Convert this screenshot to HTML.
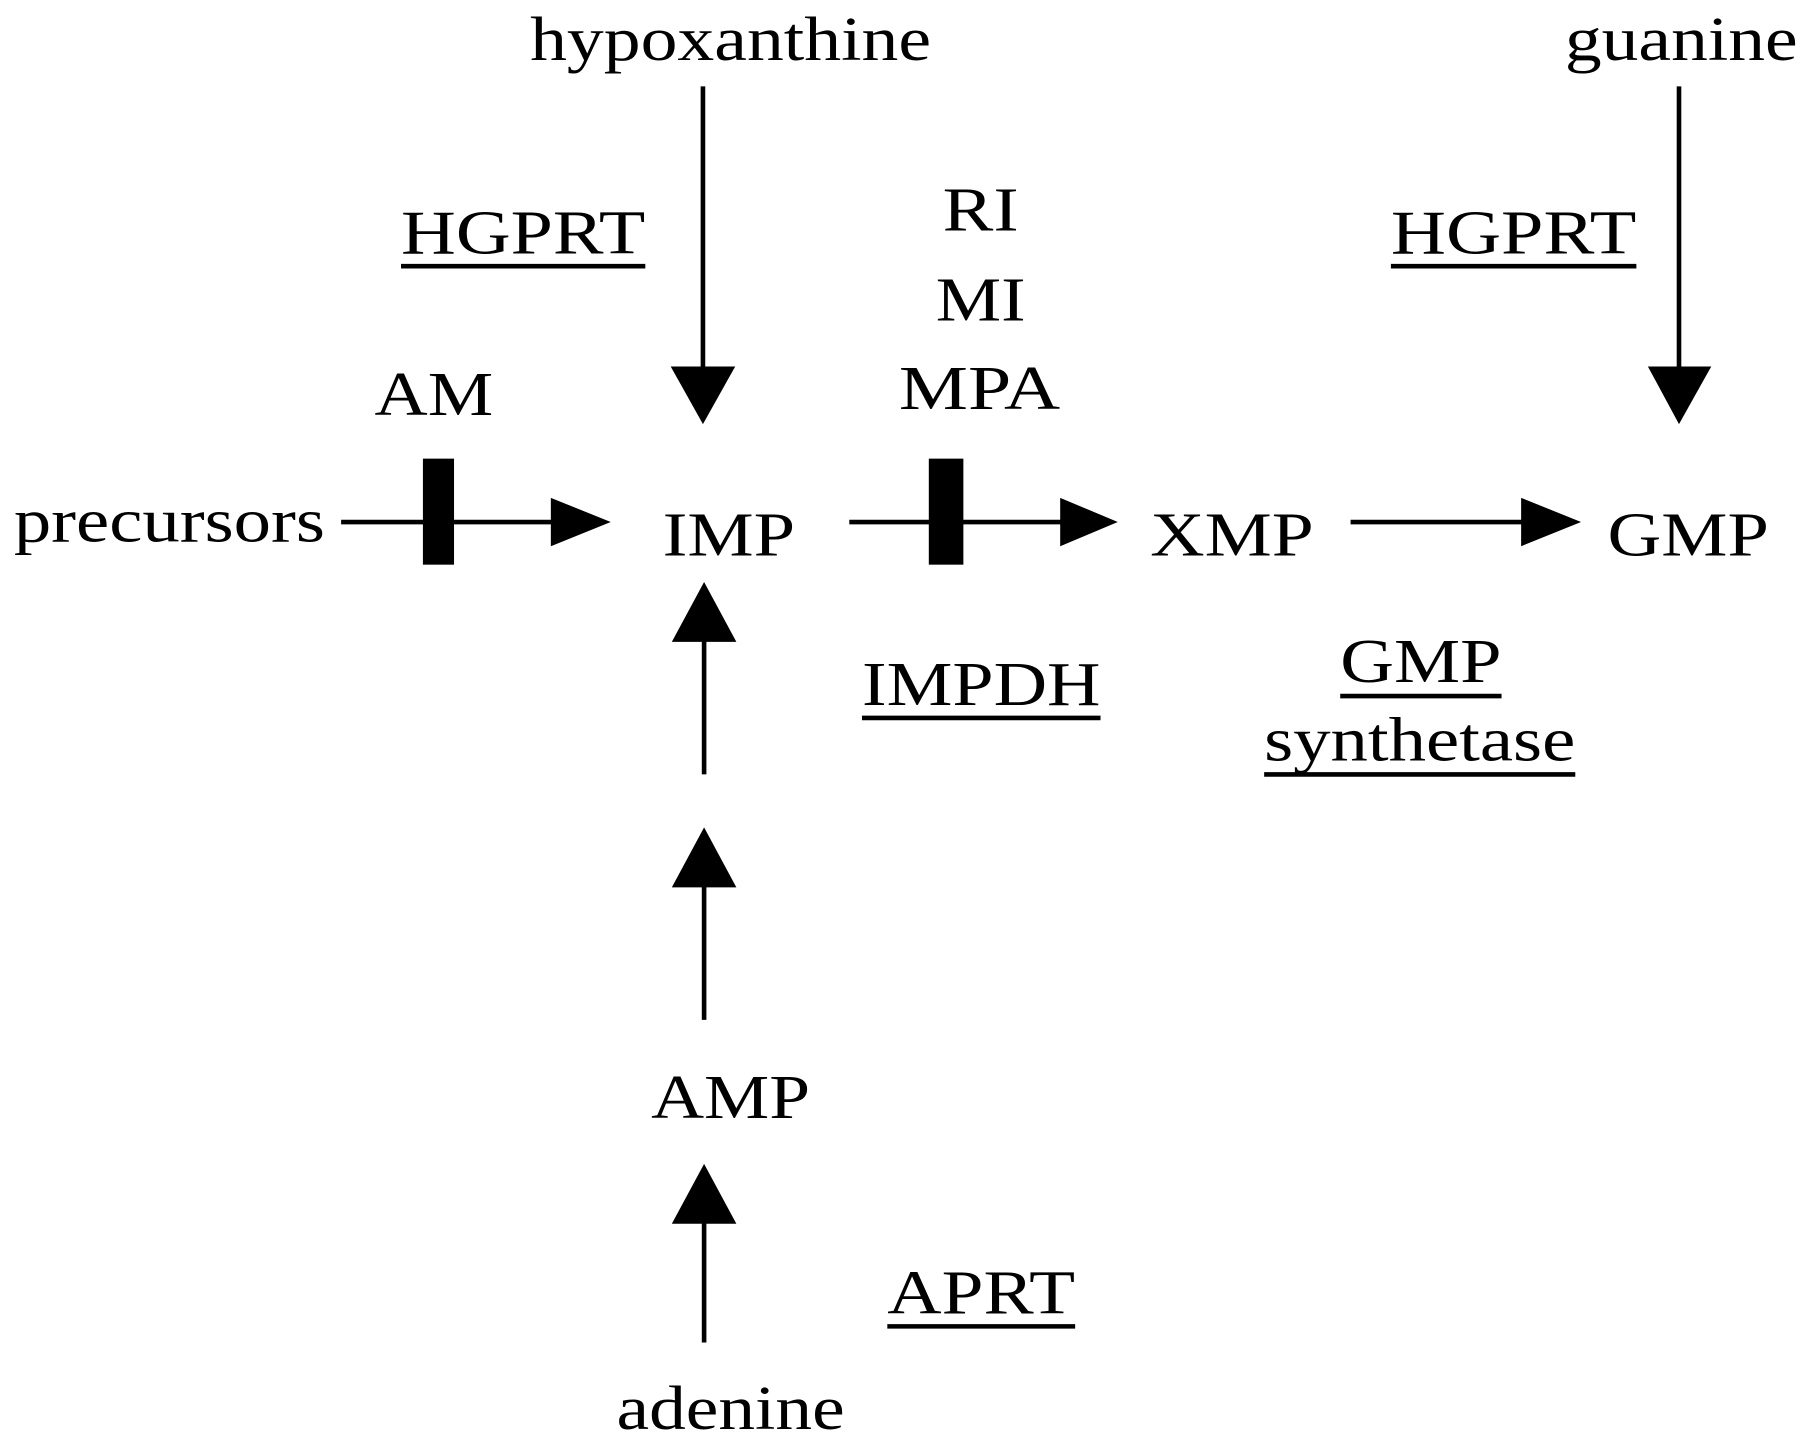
<!DOCTYPE html>
<html><head><meta charset="utf-8"><style>
html,body{margin:0;padding:0;background:#fff;}
svg{display:block}
text{font-family:"Liberation Serif",serif;font-size:54px;fill:#000}
</style></head><body>
<svg width="1800" height="1437" viewBox="0 0 1562 1247" preserveAspectRatio="none" xmlns="http://www.w3.org/2000/svg">
<g stroke="#000" stroke-width="4" fill="none">
<line x1="610" y1="75" x2="610" y2="322"/>
<line x1="1457" y1="75" x2="1457" y2="322"/>
<line x1="296" y1="453" x2="482" y2="453"/>
<line x1="737" y1="453" x2="922" y2="453"/>
<line x1="1172" y1="453" x2="1322" y2="453"/>
<line x1="611" y1="555" x2="611" y2="672"/>
<line x1="611" y1="768" x2="611" y2="885"/>
<line x1="611" y1="1060" x2="611" y2="1165"/>
<line x1="348" y1="231" x2="560" y2="231"/>
<line x1="1207" y1="231" x2="1420" y2="231"/>
<line x1="748" y1="623" x2="955" y2="623"/>
<line x1="1163" y1="604" x2="1303" y2="604"/>
<line x1="1097" y1="672" x2="1367" y2="672"/>
<line x1="770" y1="1151" x2="933" y2="1151"/>
</g>
<g fill="#000">
<polygon points="582,318 638,318 610,368"/>
<polygon points="1430,318 1485,318 1457,368"/>
<polygon points="478,432 478,474 530,453"/>
<polygon points="920,432 920,474 970,453"/>
<polygon points="1320,432 1320,474 1372,453"/>
<polygon points="583,557 639,557 611,505"/>
<polygon points="583,770 639,770 611,718"/>
<polygon points="583,1062 639,1062 611,1010"/>
<rect x="367" y="398" width="27" height="92"/>
<rect x="806" y="398" width="30" height="92"/>
</g>
<text x="460" y="52" textLength="348" lengthAdjust="spacingAndGlyphs">hypoxanthine</text>
<text x="1358" y="52" textLength="202" lengthAdjust="spacingAndGlyphs">guanine</text>
<text x="348" y="220" textLength="212" lengthAdjust="spacingAndGlyphs">HGPRT</text>
<text x="1207" y="220" textLength="213" lengthAdjust="spacingAndGlyphs">HGPRT</text>
<text x="818" y="200" textLength="66" lengthAdjust="spacingAndGlyphs">RI</text>
<text x="812" y="278" textLength="78" lengthAdjust="spacingAndGlyphs">MI</text>
<text x="780" y="355" textLength="140" lengthAdjust="spacingAndGlyphs">MPA</text>
<text x="325" y="360" textLength="103" lengthAdjust="spacingAndGlyphs">AM</text>
<text x="12" y="470" textLength="270" lengthAdjust="spacingAndGlyphs">precursors</text>
<text x="575" y="482" textLength="115" lengthAdjust="spacingAndGlyphs">IMP</text>
<text x="998" y="482" textLength="142" lengthAdjust="spacingAndGlyphs">XMP</text>
<text x="1395" y="482" textLength="140" lengthAdjust="spacingAndGlyphs">GMP</text>
<text x="748" y="612" textLength="207" lengthAdjust="spacingAndGlyphs">IMPDH</text>
<text x="1163" y="592" textLength="140" lengthAdjust="spacingAndGlyphs">GMP</text>
<text x="1097" y="660" textLength="270" lengthAdjust="spacingAndGlyphs">synthetase</text>
<text x="565" y="970" textLength="138" lengthAdjust="spacingAndGlyphs">AMP</text>
<text x="770" y="1140" textLength="163" lengthAdjust="spacingAndGlyphs">APRT</text>
<text x="535" y="1240" textLength="198" lengthAdjust="spacingAndGlyphs">adenine</text>
</svg>
</body></html>
